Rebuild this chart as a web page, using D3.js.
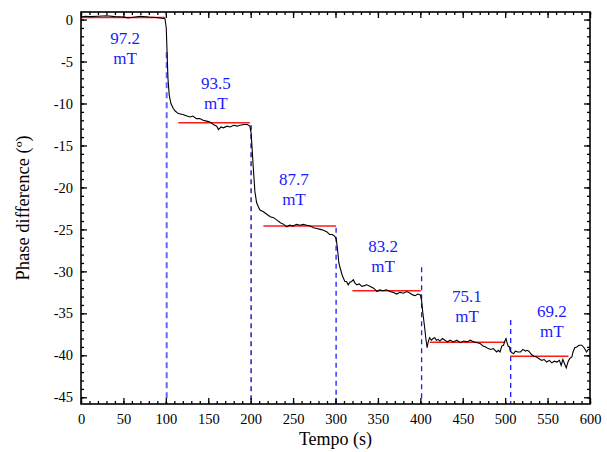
<!DOCTYPE html>
<html>
<head>
<meta charset="utf-8">
<script src="https://cdn.jsdelivr.net/npm/d3@7"></script>
<style>
  body { margin: 0; background: #fff; }
</style>
</head>
<body>
<script>
// size of the page
var w = 607;
var h = 452;
var margin = { top: 12, right: 17, bottom: 48, left: 81 };
var serif = "'Liberation Serif', 'Times New Roman', serif";

// measured phase difference vs time
var tempo = [0,5,10,20,30,40,50,55,60,70,80,88,95,99,100.5,101.5,102.5,104,106,108.8,111,114.7,120,125,128.5,132,136,140,144,148,152,156,160,162,165,168,172,176,180,184,187.5,192,196,199,200.5,201.5,203,205,207,209,211,215,219,223,227,231,235,239,242.5,246,250,254,258,262,266,270,274,278,282,286,290,293,296,299,301,302.5,304,305.5,308,311,313,315,317,319,321,323,325,328,331,334,337,341,345,349,352,356,360,364,368,372,376,380,384,388,391,394,397,400,401.5,403,405,406.5,408,409.5,411,413,415,417,419,421,423,426,429,432,435,439,443,447,451,455,459,463,467,470.5,474,477,480,483,486,490,492,494,496,498,500,501,502,503.5,505,506,508,510,512,515,518,521,524,525.6,528,531,534,537,540,543,546,549,552,555,558,561,564,566,568,570,572,574,576,578.6,580,582,584.5,587,590.4,593,596,598,600];
var phase = [0.3,0.4,0.35,0.4,0.45,0.35,0.3,0.2,0.25,0.4,0.3,0.25,0.15,0.1,-1,-4,-7,-9,-10,-10.6,-10.9,-11.2,-11.3,-11.5,-11.6,-11.5,-11.8,-11.8,-12.0,-12.1,-12.2,-12.5,-12.7,-13.1,-12.8,-12.9,-12.7,-12.8,-12.6,-12.7,-12.6,-12.5,-12.5,-12.7,-13.5,-15,-17.5,-20.5,-21.8,-22.3,-22.7,-22.9,-23.2,-23.5,-23.6,-23.9,-24.2,-24.4,-24.7,-24.5,-24.6,-24.4,-24.5,-24.4,-24.5,-24.6,-24.8,-24.9,-25.0,-25.1,-25.3,-25.6,-25.6,-25.8,-26.2,-27.5,-29,-29.6,-30.5,-31.2,-31.2,-31.6,-31.3,-31.2,-31.0,-31.4,-31.6,-31.5,-31.8,-31.7,-31.6,-31.8,-32.0,-32.4,-32.2,-32.3,-32.2,-32.4,-32.5,-32.7,-32.5,-32.6,-32.4,-32.6,-32.8,-32.9,-32.7,-32.8,-33.5,-35,-36.6,-38,-39.1,-38.3,-37.9,-38.2,-38.0,-37.9,-38.2,-38.1,-38.3,-38.0,-38.2,-38.4,-38.2,-38.4,-38.2,-38.5,-38.3,-38.4,-38.2,-38.4,-38.5,-38.6,-38.9,-39.0,-39.2,-39.3,-39.2,-39.6,-39.4,-39.6,-38.9,-38.8,-38.2,-38.0,-38.4,-38.9,-39.0,-39.5,-39.7,-39.8,-39.5,-39.6,-39.6,-39.3,-39.5,-39.4,-39.5,-39.9,-40.1,-40.2,-40.4,-40.6,-40.5,-40.8,-40.6,-40.9,-40.7,-40.8,-40.6,-41.2,-40.5,-41.0,-41.5,-40.8,-40.4,-40.2,-39.6,-39.1,-39.0,-38.8,-38.8,-39.1,-39.6,-39.3,-39.3];

// mean level of each step (red lines)
var levelValue = [0.25, -12.3, -24.6, -32.3, -38.45, -40.1];
var levelStart = [0, 114.7, 215, 320, 411, 506];
var levelEnd = [99, 199, 300.7, 400.6, 500, 574.6];

// field switching times (dashed lines) and where they start
var switchTime = [101, 200.5, 300.7, 401.5, 506.5];
var switchTop = [-3.9, -12.6, -24.8, -29.5, -35.8];
var switchColor = ["#6464ff", "#0000b0", "#1c1cff", "#1c1cff", "#1c1cff"];

// field labels
var fieldLabel = ["97.2", "93.5", "87.7", "83.2", "75.1", "69.2"];
var labelTime = [52, 159, 251, 356, 455, 555];
var labelPhase = [-2.94, -8.3, -19.7, -27.7, -33.65, -35.4];

var xTicks = d3.range(0, 601, 50);
var yTicks = d3.range(0, -46, -5);

var svg = d3.select("body").append("svg").attr("width", w).attr("height", h);

var x = d3.scaleLinear().domain([0, 600]).range([margin.left, w - margin.right]);
var y = d3.scaleLinear().domain([-45.8, 0.9]).range([h - margin.bottom, margin.top]);

var x0 = margin.left, x1 = w - margin.right;
var y0 = margin.top, y1 = h - margin.bottom;

svg.append("clipPath").attr("id", "clip")
  .append("rect").attr("x", x0).attr("y", y0).attr("width", x1 - x0).attr("height", y1 - y0);

var plot = svg.append("g").attr("clip-path", "url(#clip)");

// dashed vertical lines
plot.selectAll(".sw")
  .data(switchTime)
  .enter()
  .append("line")
  .attr("x1", function (d) { return x(d); })
  .attr("x2", function (d) { return x(d); })
  .attr("y1", function (d, i) { return y(switchTop[i]); })
  .attr("y2", y1)
  .style("stroke", function (d, i) { return switchColor[i]; })
  .style("stroke-width", function (d, i) { return i == 0 ? 2 : 1.3; })
  .style("stroke-dasharray", function (d, i) { return i == 0 ? "6,4" : "5,4"; });

// red level lines
plot.selectAll(".lvl")
  .data(levelValue)
  .enter()
  .append("line")
  .attr("x1", function (d, i) { return x(levelStart[i]); })
  .attr("x2", function (d, i) { return x(levelEnd[i]); })
  .attr("y1", function (d) { return y(d); })
  .attr("y2", function (d) { return y(d); })
  .style("stroke", "#ff1a1a")
  .style("stroke-width", 1.5);

// the curve
var line = d3.line()
  .x(function (d) { return x(d[0]); })
  .y(function (d) { return y(d[1]); });

plot.append("path")
  .datum(tempo.map(function (t, i) { return [t, phase[i]]; }))
  .attr("d", line)
  .style("fill", "none")
  .style("stroke", "#000")
  .style("stroke-width", 1.1);

// field labels
fieldLabel.forEach(function (lab, i) {
  var t = svg.append("text")
    .attr("x", x(labelTime[i]))
    .attr("y", y(labelPhase[i]))
    .attr("text-anchor", "middle")
    .style("font-family", serif)
    .style("fill", "#1a1aff")
    .style("font-size", "17px");
  t.append("tspan").attr("x", x(labelTime[i])).text(lab);
  t.append("tspan").attr("x", x(labelTime[i])).attr("dy", 20).text("mT");
});

// axes, ticks pointing inwards
function styleAxis(g) {
  g.attr("font-family", null);
  g.select(".domain").remove();
  g.selectAll("line").style("stroke", "#000").style("stroke-width", 1.3);
  g.selectAll("text").style("font-family", serif).style("font-size", "14.5px").style("fill", "#000");
}

svg.append("g").attr("transform", "translate(0," + y1 + ")")
  .call(d3.axisBottom(x).tickValues(d3.range(0, 601, 10)).tickSize(-3).tickFormat(""))
  .call(styleAxis);
svg.append("g").attr("transform", "translate(0," + y1 + ")")
  .call(d3.axisBottom(x).tickValues(xTicks).tickSize(-6).tickPadding(10).tickFormat(d3.format("d")))
  .call(styleAxis);
svg.append("g").attr("transform", "translate(0," + y0 + ")")
  .call(d3.axisTop(x).tickValues(d3.range(0, 601, 10)).tickSize(-3).tickFormat(""))
  .call(styleAxis);
svg.append("g").attr("transform", "translate(0," + y0 + ")")
  .call(d3.axisTop(x).tickValues(xTicks).tickSize(-6).tickFormat(""))
  .call(styleAxis);

svg.append("g").attr("transform", "translate(" + x0 + ",0)")
  .call(d3.axisLeft(y).tickValues(d3.range(0, -46, -1)).tickSize(-3).tickFormat(""))
  .call(styleAxis);
svg.append("g").attr("transform", "translate(" + x0 + ",0)")
  .call(d3.axisLeft(y).tickValues(yTicks).tickSize(-6).tickPadding(8).tickFormat(function (d) { return String(d); }))
  .call(styleAxis);
svg.append("g").attr("transform", "translate(" + x1 + ",0)")
  .call(d3.axisRight(y).tickValues(d3.range(0, -46, -1)).tickSize(-3).tickFormat(""))
  .call(styleAxis);
svg.append("g").attr("transform", "translate(" + x1 + ",0)")
  .call(d3.axisRight(y).tickValues(yTicks).tickSize(-6).tickFormat(""))
  .call(styleAxis);

// frame
svg.append("rect")
  .attr("x", x0).attr("y", y0)
  .attr("width", x1 - x0).attr("height", y1 - y0)
  .style("fill", "none")
  .style("stroke", "#000")
  .style("stroke-width", 1.6);

// axis titles
svg.append("text")
  .attr("x", (x0 + x1) / 2)
  .attr("y", 445)
  .attr("text-anchor", "middle")
  .style("font-family", serif)
  .style("font-size", "18px")
  .text("Tempo (s)");

svg.append("text")
  .attr("transform", "translate(29," + ((y0 + y1) / 2) + ") rotate(-90)")
  .attr("text-anchor", "middle")
  .style("font-family", serif)
  .style("font-size", "18.5px")
  .text("Phase difference (º)");
</script>
</body>
</html>
